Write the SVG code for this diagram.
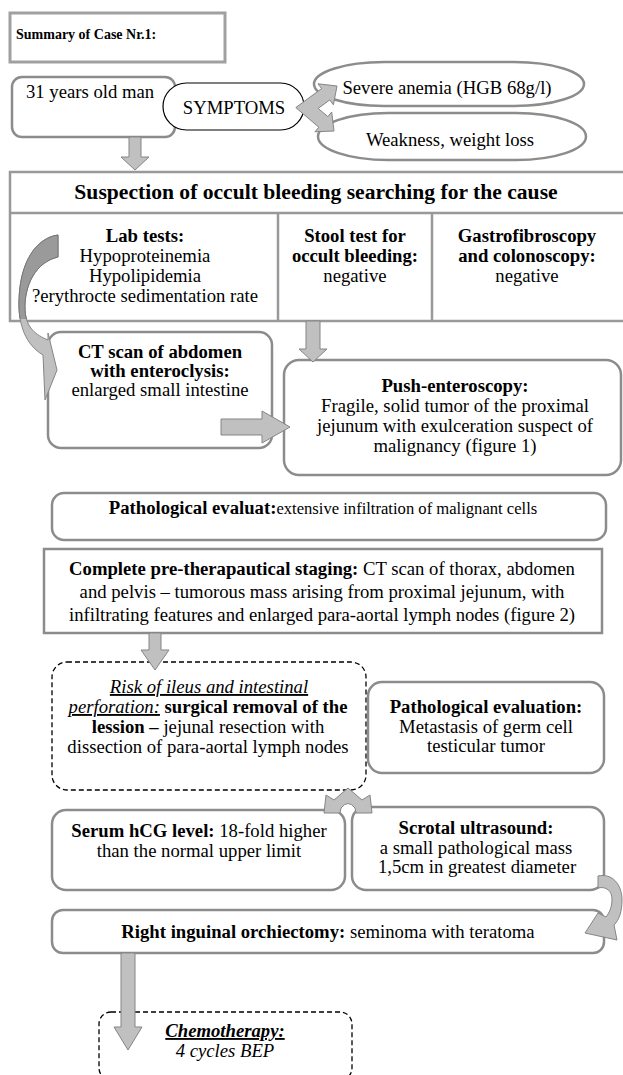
<svg xmlns="http://www.w3.org/2000/svg" width="623" height="1075" viewBox="0 0 623 1075">
<defs>
<style>
text{font-family:"Liberation Serif","Times New Roman",serif;font-size:18.7px;fill:#000}
.c{text-anchor:middle}
.b{font-weight:bold}
.i{font-style:italic}
.u{text-decoration:underline}
.box{fill:#fff;stroke:#8c8c8c;stroke-width:2.5}
.dash{fill:#fff;stroke:#000;stroke-width:1.3;stroke-dasharray:5 3}
.arr{fill:#c0c0c0;stroke:#858585;stroke-width:1}
.tl{stroke:#999;stroke-width:2.5;fill:none}
</style>
<clipPath id="topclip"><rect x="0" y="0" width="100" height="319"/></clipPath>
</defs>
<rect width="623" height="1075" fill="#fff"/>

<g id="summary">
<rect x="10" y="13" width="215" height="49" fill="#fff" stroke="#a0a0a0" stroke-width="3"/>
<text x="16" y="39" class="b" style="font-size:14px">Summary of Case Nr.1:</text>
</g>

<g id="man">
<rect class="box" x="12" y="77" width="163" height="60" rx="10"/>
<text x="26" y="98">31 years old man</text>
</g>

<g id="symptoms">
<rect x="163" y="83" width="141" height="47" rx="23.5" fill="#fff" stroke="#000" stroke-width="1.2"/>
<text class="c" x="234" y="114">SYMPTOMS</text>
</g>

<g id="anemia">
<rect class="box" x="314" y="62" width="270" height="44" rx="70" ry="22" stroke-width="3"/>
<text class="c" x="447" y="94">Severe anemia (HGB 68g/l)</text>
</g>

<g id="weakness">
<rect class="box" x="318" y="113" width="268" height="47" rx="70" ry="23.5" stroke-width="3"/>
<text class="c" x="450" y="146">Weakness, weight loss</text>
</g>

<g id="suspection">
<rect x="10" y="172" width="625" height="149" fill="#fff" stroke="#999" stroke-width="2.5"/>
<line class="tl" x1="10" y1="213" x2="635" y2="213"/>
<line class="tl" x1="278" y1="213" x2="278" y2="321"/>
<line class="tl" x1="432" y1="213" x2="432" y2="321"/>
<text class="c b" x="316" y="199" style="font-size:21.6px">Suspection of occult bleeding searching for the cause</text>
</g>

<g id="lab-tests">
<text class="c b" x="145" y="242">Lab tests:</text>
<text class="c" x="145" y="262">Hypoproteinemia</text>
<text class="c" x="145" y="282">Hypolipidemia</text>
<text class="c" x="145" y="302">?erythrocte sedimentation rate</text>
</g>

<g id="stool-test">
<text class="c b" x="355" y="242">Stool test for</text>
<text class="c b" x="355" y="262">occult bleeding:</text>
<text class="c" x="355" y="282">negative</text>
</g>

<g id="gastro">
<text class="c b" x="527" y="242">Gastrofibroscopy</text>
<text class="c b" x="527" y="262">and colonoscopy:</text>
<text class="c" x="527" y="282">negative</text>
</g>

<g id="ct-scan">
<rect class="box" x="48" y="332" width="224" height="116" rx="13"/>
<text class="c b" x="160" y="358">CT scan of abdomen</text>
<text class="c b" x="160" y="377">with enteroclysis:</text>
<text class="c" x="160" y="396">enlarged small intestine</text>
</g>

<g id="push-enteroscopy">
<rect class="box" x="284" y="360" width="337" height="115" rx="15"/>
<text class="c b" x="455" y="392">Push-enteroscopy:</text>
<text class="c" x="455" y="412">Fragile, solid tumor of the proximal</text>
<text class="c" x="455" y="432">jejunum with exulceration suspect of</text>
<text class="c" x="455" y="452">malignancy (figure 1)</text>
</g>

<g id="pathological-evaluat">
<rect class="box" x="52" y="493" width="554" height="47" rx="12"/>
<text class="c" x="323" y="514"><tspan class="b">Pathological evaluat:</tspan><tspan style="font-size:16.6px">extensive infiltration of malignant cells</tspan></text>
</g>

<g id="staging">
<rect x="44" y="549" width="558" height="84" fill="#fff" stroke="#8c8c8c" stroke-width="2.5"/>
<text class="c" x="322" y="575"><tspan class="b">Complete pre-therapautical staging:</tspan> CT scan of thorax, abdomen</text>
<text class="c" x="322" y="598">and pelvis – tumorous mass arising from proximal jejunum, with</text>
<text class="c" x="322" y="621">infiltrating features and enlarged para-aortal lymph nodes (figure 2)</text>
</g>

<g id="surgery">
<rect class="dash" x="52" y="662" width="314" height="128" rx="15"/>
<text class="c" x="209" y="693"><tspan class="i u">Risk of ileus and intestinal</tspan></text>
<text class="c" x="208" y="713"><tspan class="i u">perforation:</tspan> <tspan class="b">surgical removal of the</tspan></text>
<text class="c" x="208" y="733"><tspan class="b">lession –</tspan> jejunal resection with</text>
<text class="c" x="208" y="753">dissection of para-aortal lymph nodes</text>
</g>

<g id="pathological-evaluation">
<rect class="box" x="368" y="682" width="236" height="91" rx="14"/>
<text class="c b" x="486" y="713">Pathological evaluation:</text>
<text class="c" x="486" y="733">Metastasis of germ cell</text>
<text class="c" x="486" y="752">testicular tumor</text>
</g>

<g id="serum-hcg">
<rect class="box" x="52" y="810" width="293" height="80" rx="14"/>
<text class="c" x="199" y="837"><tspan class="b">Serum hCG level:</tspan> 18-fold higher</text>
<text class="c" x="199" y="857">than the normal upper limit</text>
</g>

<g id="scrotal-ultrasound">
<rect class="box" x="352" y="807" width="252" height="83" rx="14"/>
<text class="c b" x="476" y="834">Scrotal ultrasound:</text>
<text class="c" x="476" y="854">a small pathological mass</text>
<text class="c" x="477" y="873">1,5cm in greatest diameter</text>
</g>

<g id="orchiectomy">
<rect class="box" x="52" y="910" width="552" height="43" rx="11"/>
<text class="c" x="328" y="938"><tspan class="b">Right inguinal orchiectomy:</tspan> seminoma with teratoma</text>
</g>

<g id="chemotherapy">
<rect class="dash" x="99" y="1012" width="253" height="68" rx="12"/>
<text class="c b i u" x="225" y="1037">Chemotherapy:</text>
<text class="c i" x="225" y="1057">4 cycles BEP</text>
</g>

<g id="connectors">
<polygon class="arr" points="129,137 141,137 141,157 149,157 135,170 121,157 129,157"/>
<polygon class="arr" points="295.8,107.6 321.6,88.6 318,83.8 337,86 333.4,104.8 329.8,99.9 318.2,108.4 327.8,116.6 331.7,112 334,131 314.9,131.8 318.8,127.2"/>
<path class="arr" d="M58,235 C36,238 20,262 19,300 C18,325 26,345 43,355 L45,400 L57,370 L48,333 L48,340 C36,335 26,328 25,310 C24,285 36,262 58,257 Z"/>
<path d="M58,235 C36,238 20,262 19,300 C18,325 26,345 43,355 L45,400 L57,370 L48,333 L48,340 C36,335 26,328 25,310 C24,285 36,262 58,257 Z" fill="#9a9a9a" stroke="#777" stroke-width="1" clip-path="url(#topclip)"/>
<polygon class="arr" points="306,321 320,321 320,349 327,349 313,362 299,349 306,349"/>
<polygon class="arr" points="221,419 262,419 262,411 290,427 262,443 262,435 221,435"/>
<polygon class="arr" points="149,633 161,633 161,650 169,650 155,670 141,650 149,650"/>
<path class="arr" d="M348,788 L362,800 L370,795 L372,813 L356,813 L355,808 Q348,799 341,808 L340,813 L324,813 L326,795 L334,800 Z"/>
<path class="arr" d="M598,876 C612,873 622,884 622,900 C622,912 619,920 614,925 L617,940 L585,933 L598,913 L606,917 C610,912 612,906 612,899 C612,891 606,886 598,888 Z"/>
<polygon class="arr" points="121,953 135,953 135,1027 142,1027 128,1050 114,1027 121,1027"/>
</g>
</svg>
